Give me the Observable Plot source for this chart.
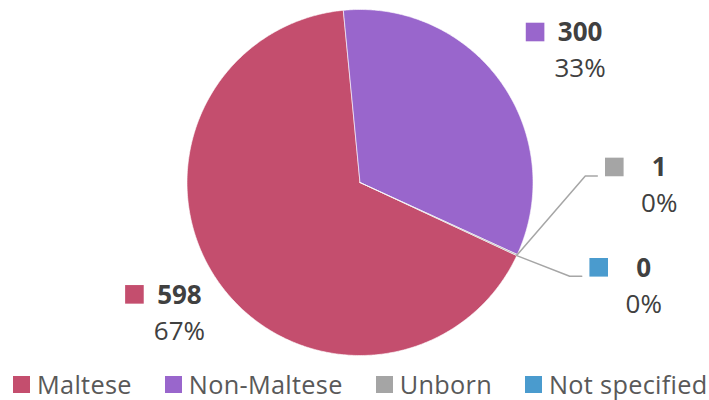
<!DOCTYPE html>
<html>
<head>
<meta charset="utf-8">
<script src="https://cdn.jsdelivr.net/npm/d3@7"></script>
<script src="https://cdn.jsdelivr.net/npm/@observablehq/plot@0.6"></script>
<style>
  html, body { margin: 0; padding: 0; background: #fff; }
  #chart { width: 709px; }
  .lg-swatches { font: 25.3px "Open Sans", sans-serif !important; letter-spacing: 0.3px; color: #595959 !important; margin: 2px 0 0 0 !important; }
  .lg-swatches-wrap { display: flex !important; flex-wrap: nowrap !important; justify-content: flex-start !important; align-items: center !important; padding-left: 13px !important; min-height: 33px !important; white-space: nowrap; }
  .lg-swatches-wrap .lg-swatch { margin-right: 33px !important; display: inline-flex !important; align-items: center !important; overflow: visible !important; max-width: none !important; }
  .lg-swatches-wrap .lg-swatch:last-child { margin-right: 0 !important; }
  .lg-swatch > svg { margin-right: 7px !important; }
</style>
</head>
<body>
<div id="chart"></div>
<script>
// ---- data ----
const categories = ["Maltese", "Non-Maltese", "Unborn", "Not specified"];
const counts = [598, 300, 1, 0];
const colors = ["#C44E6E", "#9966CC", "#A5A5A5", "#4A9BCE"];

// ---- layout ----
const W = 709, H = 365;
const cx = 359.5, cy = 182, r = 173;
const rotation = 115 * Math.PI / 180;
const total = d3.sum(counts);

const rows = categories.map((cat, i) => ({cat, count: counts[i], pct: Math.round(counts[i] / total * 100) + "%"}));
const arcs = d3.pie().sort(null).value(d => d.count)
  .startAngle(rotation).endAngle(rotation + 2 * Math.PI)(rows);

// slice polygons in unit-radius coordinates (y up)
const slicePts = [];
arcs.forEach(a => {
  if (a.endAngle - a.startAngle <= 0) return;
  const n = Math.max(2, Math.ceil((a.endAngle - a.startAngle) / 0.01));
  slicePts.push({cat: a.data.cat, x: 0, y: 0});
  for (let k = 0; k <= n; k++) {
    const t = a.startAngle + (a.endAngle - a.startAngle) * k / n;
    slicePts.push({cat: a.data.cat, x: Math.sin(t), y: Math.cos(t)});
  }
  slicePts.push({cat: a.data.cat, x: 0, y: 0});
});

// labels
const labels = [];
const leaders = [];
let tiny = 0;
arcs.forEach(a => {
  const mid = (a.startAngle + a.endAngle) / 2;
  const share = a.data.count / total;
  let ax, ay;
  if (share >= 0.02) {
    ax = 1.42 * Math.sin(mid) + 20 / r;
    ay = 1.31 * Math.cos(mid);
  } else {
    ax = 1.73 - 0.09 * tiny;
    ay = -(0.02 + 0.58 * tiny);
    tiny++;
    leaders.push({cat: a.data.cat, x: Math.sin(mid), y: Math.cos(mid)});
    leaders.push({cat: a.data.cat, x: ax - 74 / r, y: ay + 10 / r});
    leaders.push({cat: a.data.cat, x: ax - 62 / r, y: ay + 10 / r});
  }
  labels.push({cat: a.data.cat, count: a.data.count, pct: a.data.pct, x: ax, y: ay});
});

const font = "Open Sans";
const plot = Plot.plot({
  width: W, height: H,
  margin: 0,
  x: {domain: [-cx / r, (W - cx) / r], range: [0, W], axis: null},
  y: {domain: [(cy - H) / r, cy / r], range: [H, 0], axis: null},
  color: {domain: categories, range: colors},
  style: {fontFamily: font, background: "#fff"},
  marks: [
    Plot.line(slicePts, {x: "x", y: "y", z: "cat", fill: "cat", stroke: "#fff", strokeWidth: 1, strokeOpacity: 0.6, curve: "linear"}),
    Plot.line(leaders, {x: "x", y: "y", z: "cat", stroke: "#A6A6A6", strokeWidth: 1.5}),
    Plot.dot(labels, {x: "x", y: "y", symbol: "square", r: 10.5, fill: "cat", dx: -45, dy: -19}),
    Plot.text(labels, {x: "x", y: "y", text: d => String(d.count), dy: -18, fontSize: 26, fontWeight: "bold", fontFamily: font, fill: "#404040"}),
    Plot.text(labels, {x: "x", y: "y", text: "pct", dy: 18, fontSize: 26, fontFamily: font, fill: "#404040"})
  ]
});
document.getElementById("chart").appendChild(plot);

const legend = Plot.legend({
  color: {type: "ordinal", domain: categories, range: colors},
  legend: "swatches",
  swatchSize: 17,
  className: "lg"
});
document.getElementById("chart").appendChild(legend);
</script>
</body>
</html>
